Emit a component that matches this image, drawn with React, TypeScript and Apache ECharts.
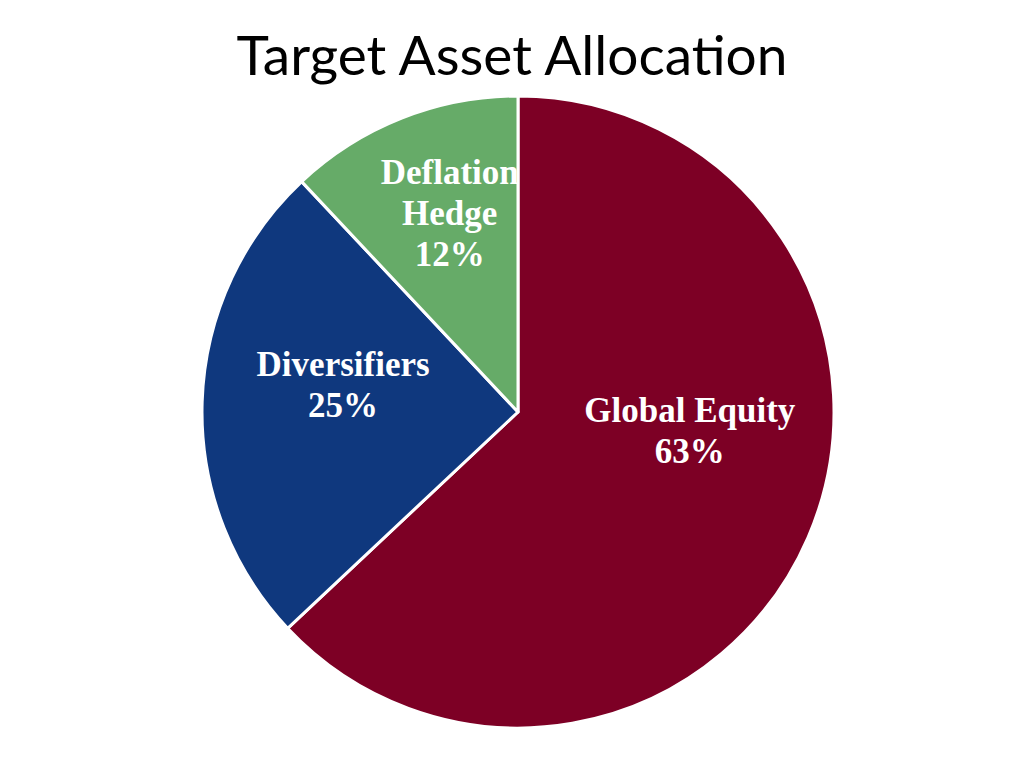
import React, { useEffect, useRef } from "react";
import * as echarts from "echarts";

const categories = ["Global Equity", "Diversifiers", "Deflation Hedge"];
const labelTexts = ["Global Equity", "Diversifiers", "Deflation\nHedge"];
const values = [63, 25, 12];
const colors = ["#7D0025", "#0F387E", "#66AB68"];
const labelShift = [
  [24, -45],
  [-14, -22],
  [-9, -49],
];

export default function App() {
  const ref = useRef<HTMLDivElement>(null);
  useEffect(() => {
    document.body.style.margin = "0";
    const chart = echarts.init(ref.current!, null, { renderer: "svg" });
    chart.setOption({
      animation: false,
      backgroundColor: "#ffffff",
      title: {
        text: "Target Asset Allocation",
        left: "center",
        top: 21,
        textStyle: {
          fontFamily: "Lato",
          fontWeight: "normal",
          fontSize: 55,
          color: "#000000",
        },
      },
      series: [
        {
          type: "pie",
          center: [518, 412],
          radius: [0, 316],
          startAngle: 90,
          clockwise: true,
          silent: true,
          itemStyle: { borderColor: "#ffffff", borderWidth: 3 },
          label: {
            show: true,
            position: "inside",
            color: "#ffffff",
            fontFamily: "Liberation Serif",
            fontWeight: "bold",
            fontSize: 35,
            lineHeight: 41,
            align: "center",
            formatter: (p: any) => labelTexts[p.dataIndex] + "\n" + p.value + "%",
          },
          labelLayout: (p: any) => ({ dx: labelShift[p.dataIndex][0], dy: labelShift[p.dataIndex][1] }),
          labelLine: { show: false },
          data: categories.map((c, i) => ({
            name: c,
            value: values[i],
            itemStyle: { color: colors[i] },
          })),
        },
      ],
    });
    return () => chart.dispose();
  }, []);
  return <div ref={ref} style={{ width: 1024, height: 759 }} />;
}
